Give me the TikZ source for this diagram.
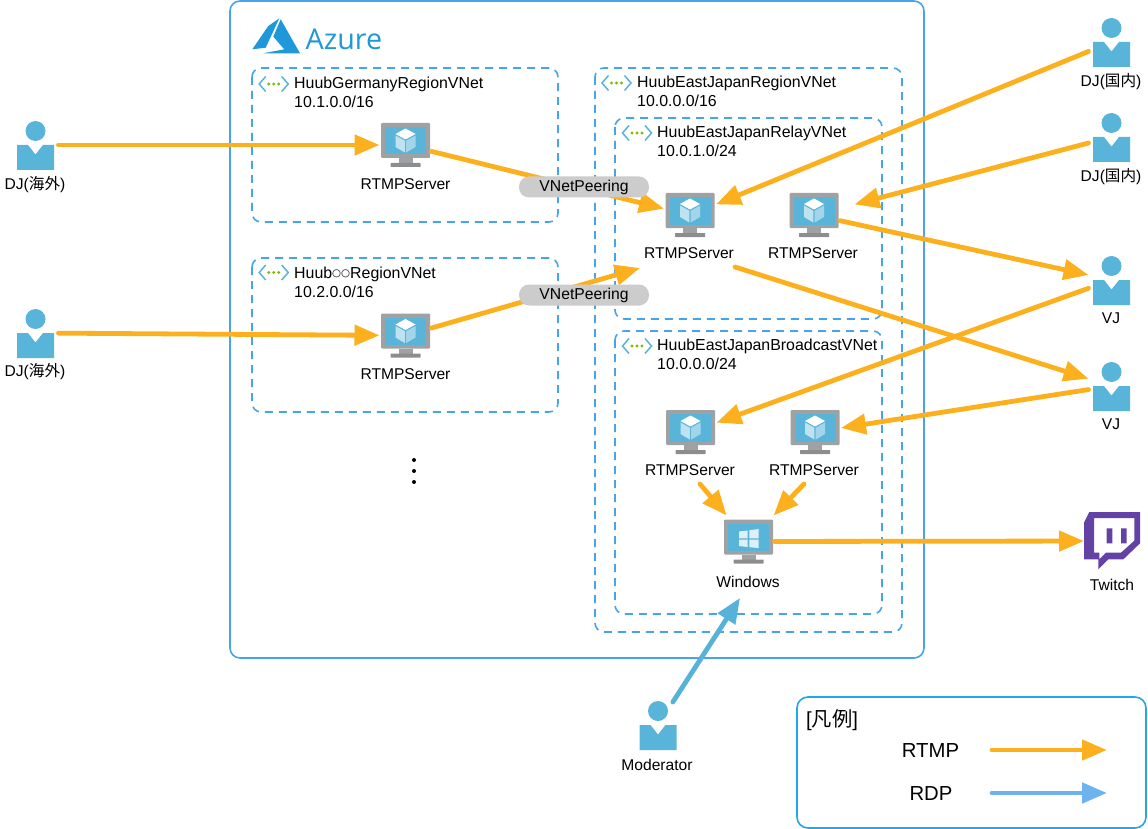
\documentclass[tikz,border=0pt]{standalone}
\usepackage{fontspec}
\setmainfont{Liberation Sans}
\newfontfamily\cjk{Noto Sans CJK JP}
\newfontfamily\azfont{Open Sans}
\newfontfamily\symfont{DejaVu Sans}
\usetikzlibrary{arrows.meta}
\definecolor{azblue}{HTML}{59B4D9}
\definecolor{azlogo}{HTML}{1E98D8}
\definecolor{framegray}{HTML}{A0A1A2}
\definecolor{basegray}{HTML}{8C8D8E}
\definecolor{rtmpc}{HTML}{FDB01E}
\definecolor{rdpc}{HTML}{56B2D9}
\definecolor{legrdp}{HTML}{6DB3EE}
\definecolor{boxblue}{HTML}{47A3EA}
\definecolor{legblue}{HTML}{1FA8EE}
\definecolor{peer}{HTML}{CCCCCC}
\definecolor{twitchc}{HTML}{6441A5}
\definecolor{vgreen}{HTML}{7FBA00}
\tikzset{
  lbl/.style={inner sep=0pt,font=\fontsize{15.6}{18}\selectfont,text=black},
  vlbl/.style={inner sep=0pt,text=black,font=\fontsize{15.9}{18.5}\selectfont,anchor=west,align=left},
  leglbl/.style={inner sep=0pt,font=\fontsize{20.3}{22}\selectfont,text=black},
  iconbox/.style={inner sep=0pt,outer sep=0pt,minimum width=52pt,minimum height=52pt},
  personbox/.style={inner sep=0pt,outer sep=0pt,minimum width=46pt,minimum height=46pt},
  twitchbox/.style={inner sep=0pt,outer sep=0pt,minimum width=56pt,minimum height=58pt},
  flow/.style={line width=4.8pt,line cap=round,-{Triangle[length=25pt,width=20pt]}},
  rtmpflow/.style={flow,draw=rtmpc,fill=rtmpc},
  rdpflow/.style={flow,draw=rdpc,fill=rdpc},
  legrdpflow/.style={flow,draw=legrdp,fill=legrdp},
  zone/.style={draw=boxblue,line width=1.6pt,dash pattern=on 8pt off 6pt,rounded corners=9pt},
  peering/.style={fill=peer,rounded corners=10pt,minimum width=130pt,minimum height=21pt,inner sep=0pt,font=\fontsize{15.7}{18}\selectfont},
}
\newcommand{\monitorbase}{%
  \fill[framegray,rounded corners=1pt] (-24.5,-22) rectangle (24.5,13);
  \fill[azblue] (-20.5,-18) rectangle (20.5,9.5);
  \fill[framegray] (-7,13) rectangle (7,18.5);
  \fill[basegray,rounded corners=.5pt] (-15,18) rectangle (15,22);
}
\newcommand{\servericon}[3]{%
  \node[iconbox] (#1) at (#2,#3) {};
  \begin{scope}[shift={(#2,#3)}]
    \monitorbase
    \fill[white] (0,-16.5) -- (10,-11) -- (0,-5.5) -- (-10,-11) -- cycle;
    \fill[white,opacity=.62] (-10,-9.5) -- (-.7,-4.3) -- (-.7,7.5) -- (-10,2) -- cycle;
    \fill[white,opacity=.45] (10,-9.5) -- (.7,-4.3) -- (.7,7.5) -- (10,2) -- cycle;
  \end{scope}
}
\newcommand{\windowsicon}[3]{%
  \node[iconbox] (#1) at (#2,#3) {};
  \begin{scope}[shift={(#2,#3)}]
    \monitorbase
    \fill[white,opacity=.8] (-9.5,-10) -- (-.8,-11) -- (-.8,-3.2) -- (-9.5,-3.2) -- cycle;
    \fill[white,opacity=.8] (.8,-11.2) -- (10,-12.5) -- (10,-3.2) -- (.8,-3.2) -- cycle;
    \fill[white,opacity=.8] (-9.5,-1.8) -- (-.8,-1.8) -- (-.8,5.5) -- (-9.5,4.5) -- cycle;
    \fill[white,opacity=.8] (.8,-1.8) -- (10,-1.8) -- (10,6.5) -- (.8,5.7) -- cycle;
  \end{scope}
}
\newcommand{\personicon}[3]{%
  \node[personbox] (#1) at (#2,#3) {};
  \begin{scope}[shift={(#2,#3)}]
    \fill[azblue] (0,-14) circle (10);
    \fill[azblue] (-18.5,0) -- (-7.5,0) -- (0,9.5) -- (7.5,0) -- (18.5,0) -- (18.5,25) -- (-18.5,25) -- cycle;
  \end{scope}
}
\newcommand{\vneticon}[2]{%
  \begin{scope}[shift={(#1,#2)}]
    \draw[azblue,line width=1.5pt] (-8,-7.5) -- (-14.5,0) -- (-8,7.5);
    \draw[azblue,line width=1.5pt] (8,-7.5) -- (14.5,0) -- (8,7.5);
    \fill[vgreen] (-5,0) circle (1.7) (0,0) circle (1.7) (5,0) circle (1.7);
  \end{scope}
}
\begin{document}
\begin{tikzpicture}[x=1pt,y=-1pt]
\useasboundingbox (0,0) rectangle (1148,829);
% containers
\draw[boxblue,line width=1.6pt,rounded corners=10pt] (230,1) rectangle (924,658);
\draw[zone] (252,68) rectangle (558,222);
\draw[zone] (252,258) rectangle (558,412);
\draw[zone] (595,68) rectangle (902,632);
\draw[zone] (615,118) rectangle (882,319);
\draw[zone] (615,331) rectangle (882,614);
\draw[legblue,line width=1.6pt,rounded corners=11pt] (797,697) rectangle (1146,828);
% Azure logo
\fill[azlogo] (279.3,18.3) -- (268.3,26) -- (252.3,49.3) -- (265.7,47.7) -- cycle;
\fill[azlogo] (280.7,19.3) -- (300,53.3) -- (263.3,53.3) -- (284.3,49.3) -- (273.3,36.7) -- cycle;
\node[inner sep=0pt,anchor=base west,font=\fontsize{28.7}{32}\selectfont\azfont,text=azlogo] (azure) at (305.5,50) {Azure};
% VNet titles
\vneticon{273.7}{84}
\node[vlbl] (vn1) at (294,92.5) {HuubGermanyRegionVNet\\10.1.0.0/16};
\vneticon{273.7}{272.5}
\node[vlbl] (vn2) at (294,282.5) {Huub{\symfont\fontsize{10.3}{18}\selectfont\raisebox{2.2pt}{○○}}RegionVNet\\10.2.0.0/16};
\vneticon{616.5}{83}
\node[vlbl] (vn3) at (637,91.5) {HuubEastJapanRegionVNet\\10.0.0.0/16};
\vneticon{637}{133}
\node[vlbl] (vn4) at (657,141.5) {HuubEastJapanRelayVNet\\10.0.1.0/24};
\vneticon{637}{346}
\node[vlbl] (vn5) at (657,354.5) {HuubEastJapanBroadcastVNet\\10.0.0.0/24};
% icons
\personicon{dja}{35.5}{145}
\personicon{djb}{35.5}{333}
\personicon{djc}{1111.5}{42}
\personicon{djd}{1111.5}{137}
\personicon{vja}{1111.5}{280}
\personicon{vjb}{1111.5}{386}
\personicon{mod}{658}{725}
\servericon{sra}{405.5}{145}
\servericon{srb}{405.5}{335.5}
\servericon{src}{690}{215}
\servericon{srd}{814}{215}
\servericon{sre}{690.5}{432}
\servericon{srf}{815}{432}
\windowsicon{win}{748.5}{541.5}
% Twitch
\node[twitchbox] (twitch) at (1112,541) {};
\begin{scope}[shift={(1060,500)},x=.3333pt,y=-.3333pt]
  \fill[twitchc,even odd rule] (88,36) -- (240,36) -- (240,130) -- (190,178) -- (145,178) -- (115,208) -- (115,178) -- (72,178) -- (72,68) -- cycle
    (102,54) -- (223,54) -- (223,122) -- (183,158) -- (138,158) -- (118,178) -- (118,158) -- (102,158) -- cycle;
  \fill[twitchc] (140,85) rectangle (157,130) (183,85) rectangle (200,130);
\end{scope}
% labels
\node[lbl] (ldja) at (35,184.5) {DJ({\cjk 海外})};
\node[lbl] (ldjb) at (35,371.5) {DJ({\cjk 海外})};
\node[lbl] (ldjc) at (1111,81.5) {DJ({\cjk 国内})};
\node[lbl] (ldjd) at (1111,176.5) {DJ({\cjk 国内})};
\node[lbl] (lvja) at (1111,318.5) {VJ};
\node[lbl] (lvjb) at (1111,424.5) {VJ};
\node[lbl] (ltw) at (1112,584.5) {Twitch};
\node[lbl] (lmod) at (657,764.5) {Moderator};
\node[lbl] (lsra) at (405.5,184.5) {RTMPServer};
\node[lbl] (lsrb) at (405.5,374.5) {RTMPServer};
\node[lbl] (lsrc) at (689,253.5) {RTMPServer};
\node[lbl] (lsrd) at (813,253.5) {RTMPServer};
\node[lbl] (lsre) at (690,470.5) {RTMPServer};
\node[lbl] (lsrf) at (814,470.5) {RTMPServer};
\node[lbl] (lwin) at (748,581.5) {Windows};
% free connector ends
\coordinate (endb) at (640,268);
\coordinate (startc) at (735,267);
\coordinate (starte) at (700,484);
\coordinate (startf) at (804,484);
\coordinate (endm) at (740,598);
% connectors
\draw[rtmpflow] (dja) -- (sra);
\draw[rtmpflow] (djb) -- (srb);
\draw[rtmpflow] (sra) -- (src);
\draw[rtmpflow] (srb) -- (endb);
\draw[rtmpflow] (djc) -- (src);
\draw[rtmpflow,shorten >=15pt] (djd) -- (srd);
\draw[rtmpflow] (srd) -- (vja);
\draw[rtmpflow] (startc) -- (vjb);
\draw[rtmpflow] (vja) -- (sre);
\draw[rtmpflow] (vjb) -- (srf);
\draw[rtmpflow] (starte) -- (win);
\draw[rtmpflow] (startf) -- (win);
\draw[rtmpflow] (win) -- (twitch);
\draw[rdpflow] (mod) -- (endm);
% peering badges
\node[peering] (pa) at (584,187) {VNetPeering};
\node[peering] (pb) at (584,295) {VNetPeering};
% dots
\fill (414,460) circle (2) (414,471) circle (2) (414,482) circle (2);
% legend
\node[leglbl,anchor=west] (legt) at (806,720.5) {[{\cjk 凡例}]};
\node[leglbl] (legr) at (930.5,751) {RTMP};
\node[leglbl] (legd) at (931,794) {RDP};
\coordinate (lra) at (992,750);
\coordinate (lrb) at (1107,750);
\coordinate (lda) at (992,793);
\coordinate (ldb) at (1107,793);
\draw[rtmpflow] (lra) -- (lrb);
\draw[legrdpflow] (lda) -- (ldb);
\end{tikzpicture}
\end{document}
